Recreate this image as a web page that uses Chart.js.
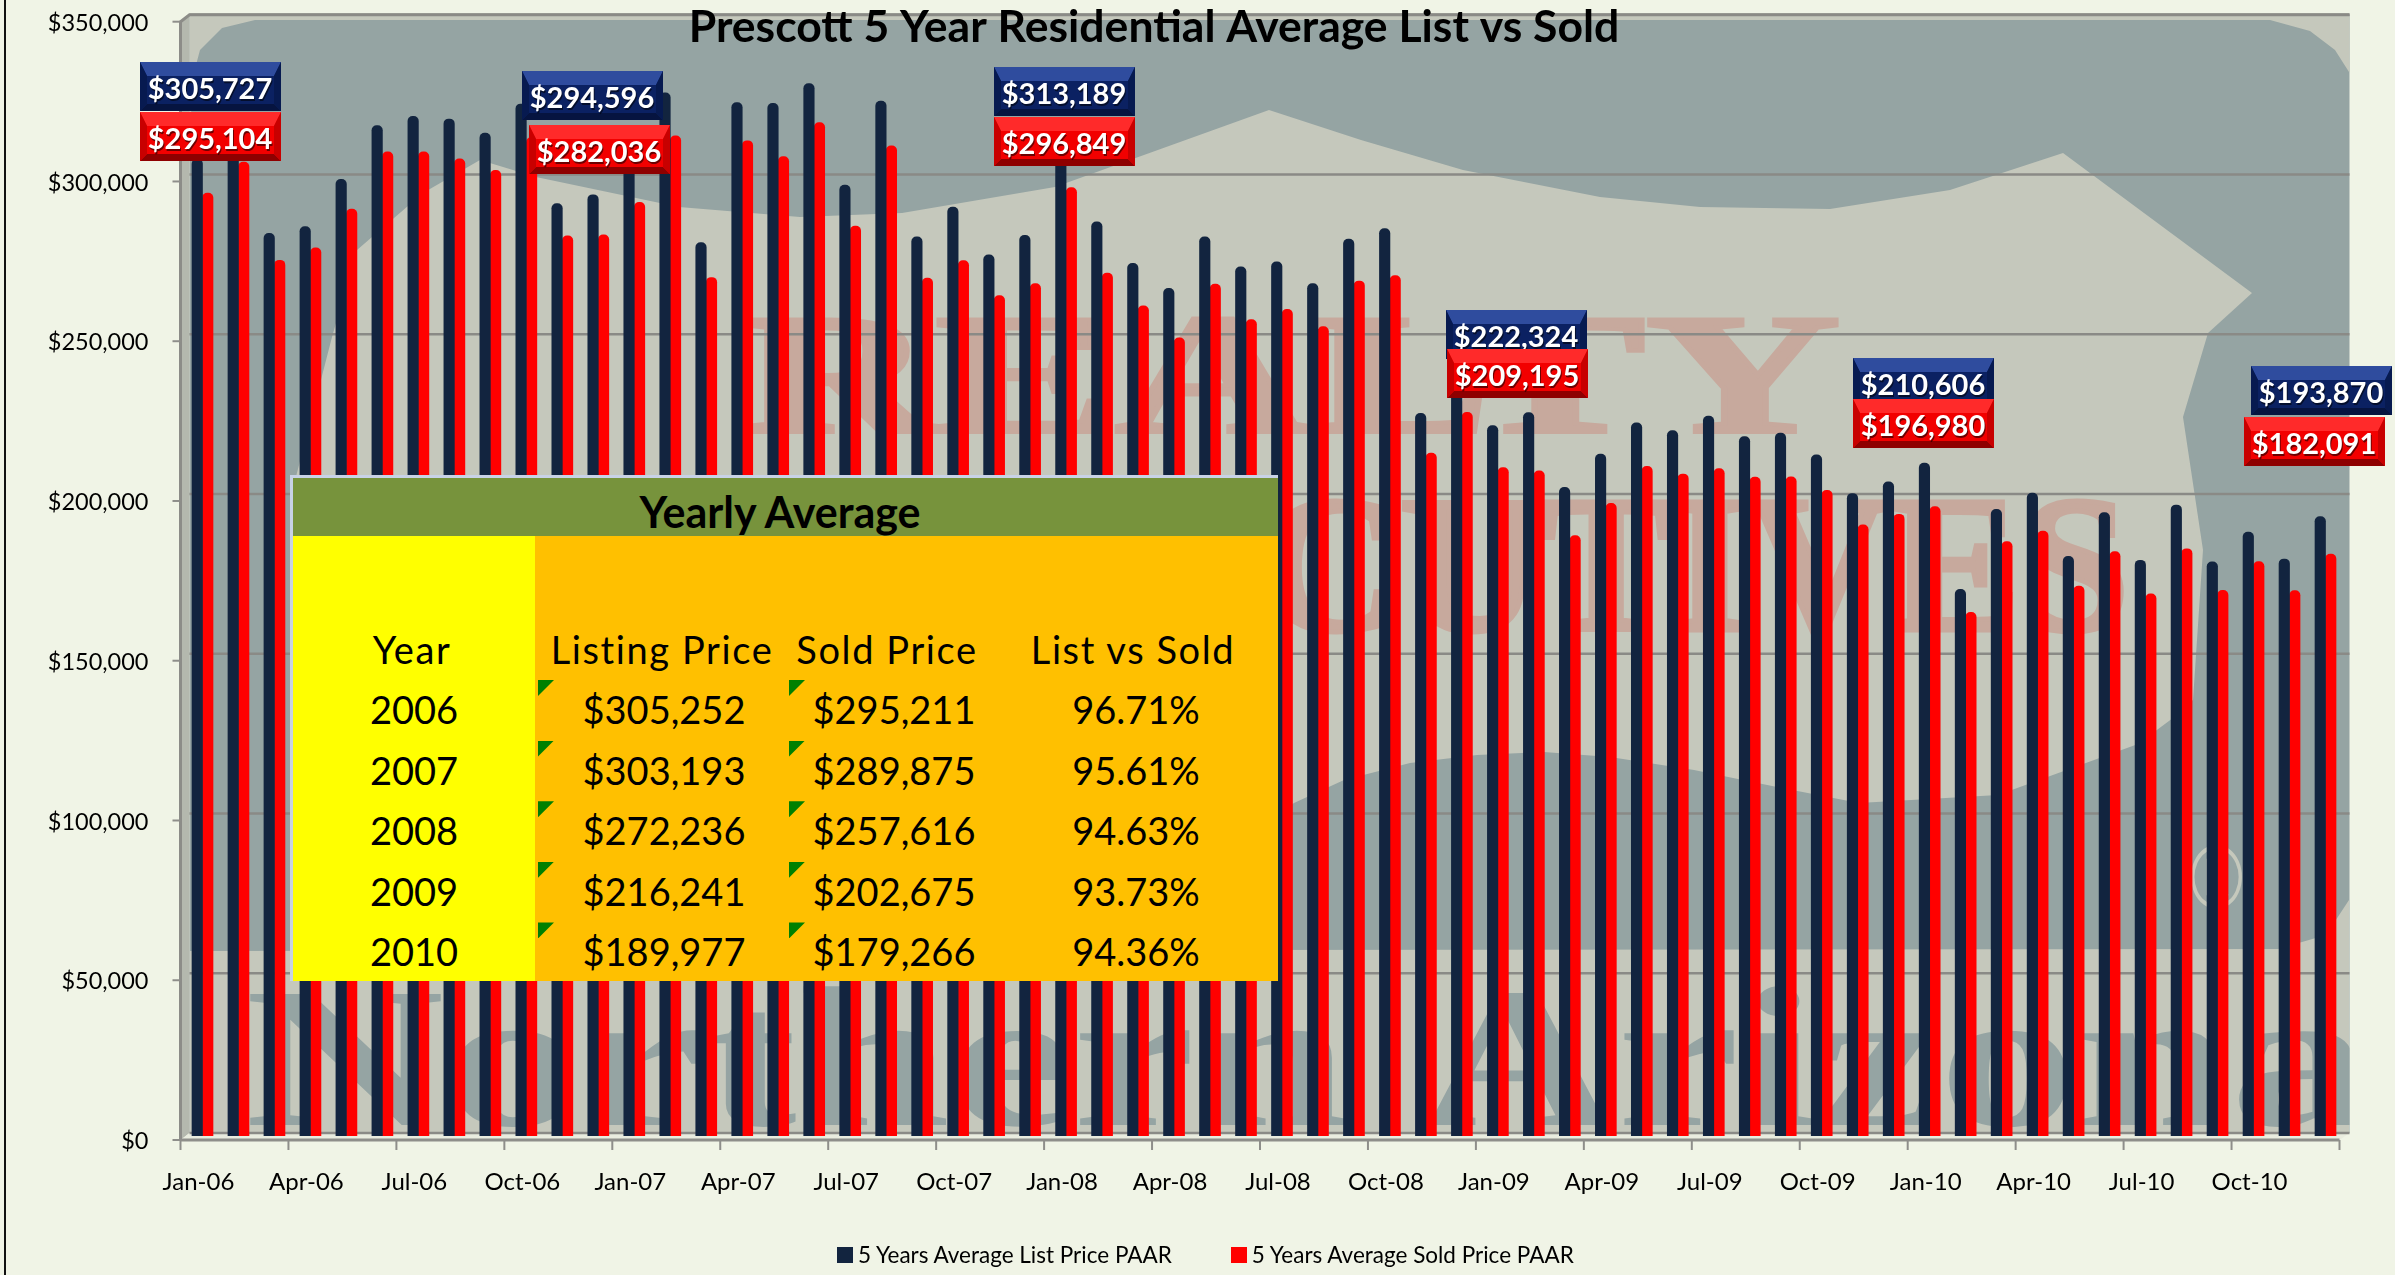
<!DOCTYPE html>
<html>
<head>
<meta charset="utf-8">
<title>Prescott 5 Year Residential Average List vs Sold</title>
<script src="https://cdn.jsdelivr.net/npm/chart.js@4/dist/chart.umd.js"></script>
<style>
  html, body { margin: 0; padding: 0; background: #F0F4E6; }
  #wrap { position: relative; width: 2395px; height: 1275px; overflow: hidden; font-family: Lato, sans-serif; color: #000; }
  #yearly { position: absolute; left: 290px; top: 475px; width: 985px; height: 503px; border-top: 3px solid #C8D2E6; border-left: 3px solid #C8D2E6; background: #FFC000; }
  #yearly .head { position: absolute; left: 0; top: 0; width: 100%; height: 58px; background: #77933C; }
  #yearly .yearcol { position: absolute; left: 0; top: 58px; width: 242px; bottom: 0; background: #FFFF00; }
  #yearly span { position: absolute; transform: translate(-50%, -50%); white-space: nowrap; font-size: 38px; line-height: 1; }
  #yearly span.hd { letter-spacing: 1.6px; }
  #yearly span.ttl { font-weight: bold; font-size: 43px; }
  #yearly i { position: absolute; width: 16px; height: 16px; background: #008000; clip-path: polygon(0 0, 100% 0, 0 100%); }
  #legend { position: absolute; top: 1243px; left: 837px; display: flex; gap: 59px; font-size: 22.5px; line-height: 24px; }
  #legend div { display: flex; align-items: center; white-space: nowrap; }
  #legend b { display: inline-block; width: 16px; height: 16px; margin-right: 5px; }
</style>
</head>
<body>
<div id="wrap">
  <canvas id="myChart" width="2395" height="1275"></canvas>
  <div id="yearly"></div>
  <div id="legend"></div>
</div>
<script>
const chartTitle = 'Prescott 5 Year Residential Average List vs Sold'
const listName = '5 Years Average List Price PAAR'
const soldName = '5 Years Average Sold Price PAAR'

const months = [
  'Jan-06','Feb-06','Mar-06','Apr-06','May-06','Jun-06','Jul-06','Aug-06','Sep-06','Oct-06','Nov-06','Dec-06',
  'Jan-07','Feb-07','Mar-07','Apr-07','May-07','Jun-07','Jul-07','Aug-07','Sep-07','Oct-07','Nov-07','Dec-07',
  'Jan-08','Feb-08','Mar-08','Apr-08','May-08','Jun-08','Jul-08','Aug-08','Sep-08','Oct-08','Nov-08','Dec-08',
  'Jan-09','Feb-09','Mar-09','Apr-09','May-09','Jun-09','Jul-09','Aug-09','Sep-09','Oct-09','Nov-09','Dec-09',
  'Jan-10','Feb-10','Mar-10','Apr-10','May-10','Jun-10','Jul-10','Aug-10','Sep-10','Oct-10','Nov-10','Dec-10'
]
const listPrice = [
  305727,313900,282500,284600,299400,316200,319100,318300,313900,323000,291800,294596,
  304900,326500,279600,323400,323200,329400,297600,323900,281400,290700,275800,281900,
  313189,286100,273100,265300,281400,272000,273600,266800,280700,284000,226200,244400,
  222324,226400,203000,213400,223200,220800,225300,218900,220000,213200,201100,204700,
  210606,171100,196100,201200,181400,195100,180200,197500,179700,189000,180600,193870
]
const soldPrice = [
  295104,304800,274100,278000,290100,308000,308000,305800,302200,312500,281700,282036,
  292200,313000,268700,311500,306500,317200,284800,309900,268500,274000,263000,266800,
  296849,270100,259800,249800,266600,255500,258700,253300,267600,269300,213700,226500,
  209195,208200,187900,198000,209600,207200,208900,206200,206300,202100,191300,194600,
  196980,163900,186000,189300,172100,182900,169700,183800,170800,179800,170700,182091
]

// months that carry a callout
const calloutMonths = ['Jan-06','Dec-06','Jan-08','Jan-09','Jan-10','Dec-10']

const tableHead = ['Year','Listing Price','Sold Price','List vs Sold']
const tableYears = ['2006','2007','2008','2009','2010']
const tableList = ['$305,252','$303,193','$272,236','$216,241','$189,977']
const tableSold = ['$295,211','$289,875','$257,616','$202,675','$179,266']
const tableRatio = ['96.71%','95.61%','94.63%','93.73%','94.36%']

////// layout of the picture, kept apart from the data
const listBoxes = [[140,62],[522,71],[994,67],[1446,310],[1853,358],[2251,366]]
const soldBoxes = [[140,112],[529,125],[994,117],[1447,349],[1853,399],[2244,417]]
const depth = { x: 9, y: 7 }   // how far the back wall sits behind the axes
const barShift = { x: 4, y: -4 }
const WALL_DARK = '#95A4A3', WALL_LIGHT = '#C5C8BC', WATERMARK_RED = '#C7A99D'

function poly(ctx, pts, color) {
  ctx.fillStyle = color
  ctx.beginPath()
  pts.forEach((p, i) => i ? ctx.lineTo(p[0], p[1]) : ctx.moveTo(p[0], p[1]))
  ctx.closePath()
  ctx.fill()
}

function stretchedText(ctx, text, x, y, font, color, sx, thicken) {
  ctx.save()
  ctx.translate(x, y)
  ctx.scale(sx, 1)
  ctx.font = font
  ctx.fillStyle = color
  ctx.textAlign = 'left'
  ctx.textBaseline = 'alphabetic'
  ctx.fillText(text, 0, 0)
  if (thicken) {
    ctx.strokeStyle = color
    ctx.lineWidth = thicken
    ctx.strokeText(text, 0, 0)
  }
  ctx.restore()
}

function drawWall(ctx, area) {
  const L = area.left + depth.x, R = area.right + depth.x + 1
  const T = area.top - depth.y, B = area.bottom - depth.y
  ctx.save()
  ctx.fillStyle = WALL_DARK
  ctx.fillRect(L, T, R - L, B - T)
  ctx.beginPath()
  ctx.rect(L, T, R - L, B - T)
  ctx.clip()

  // light corners at the top
  poly(ctx, [[L,T],[2395,T],[2395,20],[255,20],[222,28],[200,50],[192,80],[189,200],[L,200]], WALL_LIGHT)
  poly(ctx, [[2270,20],[2395,20],[2395,72],[2349,72],[2335,50],[2310,31]], WALL_LIGHT)

  // the big light road shield
  poly(ctx, [[300,980],[290,500],[332,337],[357,250],[423,193],[480,160],[536,177],[679,207],[800,217],
    [902,213],[1055,187],[1269,110],[1361,140],[1463,170],[1600,197],[1700,207],[1830,209],[1950,190],[2063,153],
    [2252,293],[2208,333],[2183,417],[2203,550],[2193,700],[2173,718],[2138,744],[1998,795],[1859,803],
    [1777,787],[1694,770],[1610,757],[1544,752],[1477,755],[1410,763],[1344,780],[1294,803],[1277,815],[1200,951],[300,951]], WALL_LIGHT)
  // light band along the floor
  poly(ctx, [[L,951],[2278,949],[2326,935],[2349,900],[2349,B],[L,B]], WALL_LIGHT)

  stretchedText(ctx, 'REALTY', 740, 432, 'bold 172px "Liberation Serif"', WATERMARK_RED, 1.57, 4)
  stretchedText(ctx, 'EXECUTIVES', 855, 630, 'bold 196px "Liberation Serif"', WATERMARK_RED, 1.0, 5)
  stretchedText(ctx, 'Northern Arizona', 245, 1125, 'bold 200px "Liberation Serif"', WALL_DARK, 1.38)
  stretchedText(ctx, '\u00AE', 2190, 908, '90px "Liberation Sans"', WALL_LIGHT, 0.8)
  ctx.restore()

  // side wall, floor and top edge
  poly(ctx, [[area.left, area.top],[L, T],[L, B],[area.left, area.bottom]], '#B4B8AE')
  poly(ctx, [[area.left, area.bottom],[L, B],[R, B],[area.right, area.bottom]], '#E9ECDF')
  ctx.strokeStyle = '#8C8C88'
  ctx.lineWidth = 3
  ctx.beginPath()
  ctx.moveTo(area.left, area.bottom)
  ctx.lineTo(area.left, area.top)
  ctx.lineTo(L, T)
  ctx.lineTo(R, T)
  ctx.stroke()
}

function drawBevel(ctx, x, y, w, h, c) {
  const e = 7
  ctx.fillStyle = c.base
  ctx.fillRect(x, y, w, h)
  poly(ctx, [[x,y],[x+w,y],[x+w-e,y+e*2],[x+e,y+e*2]], c.light)
  poly(ctx, [[x,y+h],[x+w,y+h],[x+w-e,y+h-e],[x+e,y+h-e]], c.dark)
  poly(ctx, [[x,y],[x+e,y+e*2],[x+e,y+h-e],[x,y+h]], c.side)
  poly(ctx, [[x+w,y],[x+w-e,y+e*2],[x+w-e,y+h-e],[x+w,y+h]], c.side)
}

const walls3d = {
  id: 'walls3d',
  beforeDraw(chart) {
    const {ctx, chartArea, scales} = chart
    ctx.save()
    ctx.fillStyle = '#F0F4E6'
    ctx.fillRect(0, 0, chart.width, chart.height)
    ctx.fillStyle = '#111'
    ctx.fillRect(4, 0, 2, chart.height)
    drawWall(ctx, chartArea)
    // gridlines on the back wall
    ctx.strokeStyle = '#8A8A86'
    ctx.lineWidth = 2.5
    scales.y.ticks.forEach(t => {
      const py = scales.y.getPixelForValue(t.value) - depth.y
      ctx.beginPath()
      ctx.moveTo(chartArea.left + depth.x, py)
      ctx.lineTo(chartArea.right + depth.x + 1, py)
      ctx.stroke()
    })
    // front axes and tick marks
    ctx.strokeStyle = '#8E8E8A'
    ctx.lineWidth = 3
    ctx.beginPath()
    ctx.moveTo(chartArea.left, chartArea.bottom)
    ctx.lineTo(chartArea.right, chartArea.bottom)
    ctx.stroke()
    ctx.lineWidth = 2
    scales.y.ticks.forEach(t => {
      const py = scales.y.getPixelForValue(t.value)
      ctx.beginPath()
      ctx.moveTo(chartArea.left - 8, py)
      ctx.lineTo(chartArea.left, py)
      ctx.stroke()
    })
    const step = chartArea.width / months.length
    for (let i = 0; i <= months.length; i += 3) {
      const px = chartArea.left + i * step
      ctx.beginPath()
      ctx.moveTo(px, chartArea.bottom)
      ctx.lineTo(px, chartArea.bottom + 10)
      ctx.stroke()
    }
    ctx.restore()
  },
  beforeDatasetsDraw(chart) {
    chart.ctx.save()
    chart.ctx.translate(barShift.x, barShift.y)
  },
  afterDatasetsDraw(chart) {
    chart.ctx.restore()
  },
  afterDraw(chart) {
    const ctx = chart.ctx
    ctx.save()
    const blue = { base: '#0B2162', light: '#2F4C9E', dark: '#061440', side: '#071A50' }
    const red = { base: '#F20000', light: '#FF2A2A', dark: '#8E0000', side: '#C80000' }
    const text = (val, x, y) => {
      ctx.font = 'bold 29px Lato'
      ctx.textAlign = 'center'
      ctx.textBaseline = 'middle'
      ctx.fillStyle = 'rgba(0,0,0,.55)'
      const s = '$' + val.toLocaleString('en-US')
      ctx.fillText(s, x + 1, y + 2)
      ctx.fillStyle = '#fff'
      ctx.fillText(s, x, y)
    }
    calloutMonths.forEach((m, n) => {
      const i = months.indexOf(m)
      const [bx, by] = listBoxes[n]
      drawBevel(ctx, bx, by, 141, 49, blue)
      text(listPrice[i], bx + 70, by + 28)
    })
    calloutMonths.forEach((m, n) => {
      const i = months.indexOf(m)
      const [bx, by] = soldBoxes[n]
      drawBevel(ctx, bx, by, 141, 49, red)
      text(soldPrice[i], bx + 70, by + 28)
    })
    // title sits on top of the wall, over the plot
    ctx.font = 'bold 44.5px Lato'
    ctx.textAlign = 'center'
    ctx.textBaseline = 'alphabetic'
    ctx.fillStyle = '#000'
    ctx.fillText(chartTitle, 1154, 42)
    ctx.restore()
  }
}

const myChart = new Chart(document.getElementById('myChart'), {
  type: 'bar',
  plugins: [walls3d],
  data: {
    labels: months,
    datasets: [
      { label: listName, data: listPrice, backgroundColor: '#12243F', barThickness: 10.5,
        borderRadius: { topLeft: 5, topRight: 5 }, borderSkipped: 'bottom' },
      { label: soldName, data: soldPrice, backgroundColor: '#FF0000', barThickness: 10.5,
        borderRadius: { topLeft: 5, topRight: 5 }, borderSkipped: 'bottom' }
    ]
  },
  options: {
    responsive: false,
    animation: false,
    layout: { padding: { top: 21.7, right: 55.5, left: 0, bottom: 0 } },
    plugins: { legend: { display: false }, title: { display: false }, tooltip: { enabled: false } },
    scales: {
      x: {
        afterFit: (s) => { s.height = 135; s.paddingLeft = 0; s.paddingRight = 0 },
        grid: { display: false, drawTicks: false },
        border: { display: false },
        ticks: {
          autoSkip: false, maxRotation: 0, minRotation: 0, padding: 28,
          color: '#000', font: { family: 'Lato', size: 24 },
          callback: (v, i) => (i % 3 === 0 ? months[i] : '')
        }
      },
      y: {
        min: 0, max: 350000,
        afterFit: (s) => { s.width = 180.5; s.paddingTop = 0; s.paddingBottom = 0 },
        grid: { display: false, drawTicks: false },
        border: { display: false },
        ticks: {
          stepSize: 50000, padding: 32, labelOffset: 1.5, color: '#000', font: { family: 'Lato', size: 23.5 },
          callback: (v) => '$' + v.toLocaleString('en-US')
        }
      }
    }
  }
})

////// legend as html so the gap between items can be wider than the chart legend allows
document.getElementById('legend').innerHTML = myChart.data.datasets
  .map(d => `<div><b style="background:${d.backgroundColor}"></b>${d.label}</div>`).join('')

////// yearly average table
const yearly = document.getElementById('yearly')
let html = '<div class="head"></div><div class="yearcol"></div>'
html += `<span class="ttl" style="left:487px;top:33px">Yearly Average</span>`
const colX = [119, 369, 594, 840]
const rowX = [121, 371, 601, 843]
tableHead.forEach((h, c) => { html += `<span class="hd" style="left:${colX[c]}px;top:171px">${h}</span>` })
tableYears.forEach((y, r) => {
  const top = 231 + r * 60.6
  const cells = [y, tableList[r], tableSold[r], tableRatio[r]]
  cells.forEach((t, c) => { html += `<span style="left:${rowX[c]}px;top:${top}px">${t}</span>` })
  html += `<i style="left:245px;top:${top - 29}px"></i><i style="left:496px;top:${top - 29}px"></i>`
})
yearly.innerHTML = html
</script>
</body>
</html>
